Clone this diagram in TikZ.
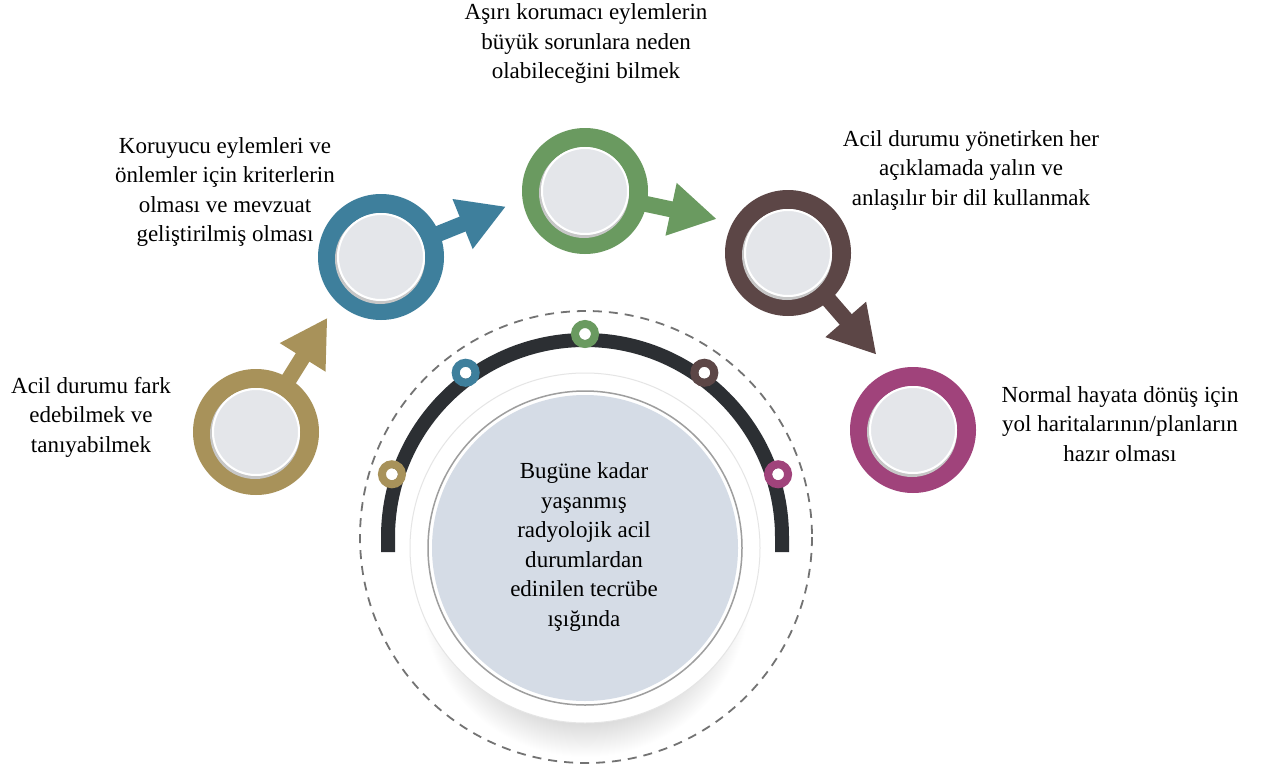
\documentclass[tikz,border=0pt]{standalone}
\usepackage{fontspec}
\setmainfont{Liberation Serif}
\usetikzlibrary{calc}

\definecolor{cOlive}{HTML}{A8925A}
\definecolor{cBlue}{HTML}{3E7F9C}
\definecolor{cGreen}{HTML}{6A9A60}
\definecolor{cBrown}{HTML}{5C4646}
\definecolor{cMag}{HTML}{A0437B}
\definecolor{arcdark}{HTML}{2C2F33}
\definecolor{diskfill}{HTML}{E4E6EA}
\definecolor{corefill}{HTML}{D5DCE6}

% the path's bounding box is mapped onto the inner 50bp square
\pgfdeclareradialshading{btnshadow}{\pgfpoint{0bp}{0bp}}{%
  color(0bp)=(black!22); color(18bp)=(black!19); color(25bp)=(white); color(50bp)=(white)}

\begin{document}
\begin{tikzpicture}[x=1pt,y=-1pt,
  lbl/.style={align=center, inner sep=0pt, text=black,
              font=\fontsize{23}{29.5}\selectfont},
  ringdot/.style={line width=8pt}]

\useasboundingbox (0,0) rectangle (1265,773);
\fill[white] (0,0) rectangle (1265,773);

% soft drop shadow under the central button
\shade[shading=btnshadow] (585,592) circle (165);

% dashed orbit
\draw[black!55, line width=1.8pt, dash pattern=on 9pt off 7pt] (586,537) circle (226);

% dark half ring
\draw[arcdark, line width=14pt] (388,552) -- (388,537)
  arc[start angle=180, end angle=360, radius=197] -- (782,552);

% small coloured markers on the half ring
\foreach \a/\col in {-162/cOlive, -126/cBlue, -90/cGreen, -54/cBrown, -18/cMag}{
  \fill[white] ($(585,537)+(\a:203)$) circle (6);
  \draw[\col, ringdot] ($(585,537)+(\a:203)$) circle (10);
}

% central button
\fill[white] (585,548) circle (175);
\draw[black!10, line width=1pt] (585,548) circle (175);
\draw[black!38, line width=1.5pt] (585,548) circle (157);
\fill[corefill] (585,548) circle (153);

% arrows of the ring symbols
\foreach \cx/\cy/\col/\ang in {256/432/cOlive/-58, 381/257/cBlue/-22,
                               585/191/cGreen/12, 788/253/cBrown/49}{
  \begin{scope}[shift={(\cx,\cy)}, rotate=-\ang]
    \fill[\col] (50,-8) rectangle (90,8);
    \fill[\col] (88,-27) -- (134,0) -- (88,27) -- cycle;
  \end{scope}
}

% rings with pale discs
\foreach \cx/\cy/\col in {256/432/cOlive, 381/257/cBlue, 585/191/cGreen,
                          788/253/cBrown, 913/430/cMag}{
  \fill[\col] (\cx,\cy) circle (63);
  \fill[black!22] (\cx-1,\cy+2) circle (45);
  \fill[diskfill] (\cx,\cy) circle (44);
  \draw[white, line width=2pt] (\cx,\cy) circle (43);
}

% labels
\node[lbl] (t1) at (91,417) {Acil durumu fark\\edebilmek ve\\tanıyabilmek};
\node[lbl] (t2) at (225,192) {Koruyucu eylemleri ve\\önlemler için kriterlerin\\olması ve mevzuat\\geliştirilmiş olması};
\node[lbl] (t3) at (586,44) {Aşırı korumacı eylemlerin\\büyük sorunlara neden\\olabileceğini bilmek};
\node[lbl] (t4) at (971,170) {Acil durumu yönetirken her\\açıklamada yalın ve\\anlaşılır bir dil kullanmak};
\node[lbl] (t5) at (1120,424) {Normal hayata dönüş için\\yol haritalarının/planların\\hazır olması};
\node[lbl] (core) at (584,547) {Bugüne kadar\\yaşanmış\\radyolojik acil\\durumlardan\\edinilen tecrübe\\ışığında};

\end{tikzpicture}
\end{document}
